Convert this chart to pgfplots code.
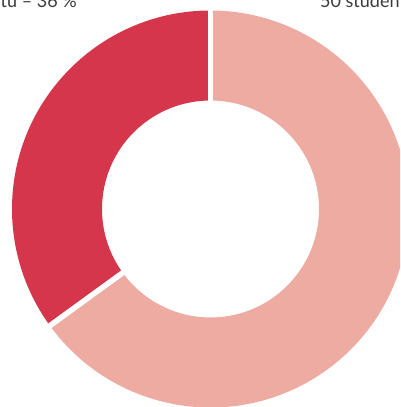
\documentclass[border=0pt]{standalone}
\usepackage{pgfplots}
\usepackage{pgfplotstable}
\pgfplotsset{compat=1.18}
\usepackage{fontspec}
\setmainfont{Lato}
\definecolor{darkc}{HTML}{D6364B}
\definecolor{lightc}{HTML}{EDABA2}
\definecolor{txt}{HTML}{3A3A3A}

\pgfplotstableread{
share
35
65
}\slices

\begin{document}
\begin{tikzpicture}
\pgfplotstablegetelem{0}{share}\of\slices
\pgfmathsetmacro{\va}{\pgfplotsretval}
\pgfplotstablegetelem{1}{share}\of\slices
\pgfmathsetmacro{\vb}{\pgfplotsretval}
\pgfmathsetmacro{\aA}{90}
\pgfmathsetmacro{\aB}{90+3.6*\va}
\pgfmathsetmacro{\aC}{\aB+3.6*\vb}
\def\R{198.5}
\def\r{108.5}
\begin{axis}[
  x=1pt, y=1pt,
  xmin=-210.5, xmax=189.5,
  ymin=-198, ymax=209,
  hide axis,
  scale only axis,
  clip=true,
]
% dark slice
\fill[darkc] (axis cs:{\R*cos(\aA)},{\R*sin(\aA)})
  arc[start angle=\aA, end angle=\aB, radius=\R pt]
  -- (axis cs:{\r*cos(\aB)},{\r*sin(\aB)})
  arc[start angle=\aB, end angle=\aA, radius=\r pt] -- cycle;
% light slice
\fill[lightc] (axis cs:{\R*cos(\aB)},{\R*sin(\aB)})
  arc[start angle=\aB, end angle=\aC, radius=\R pt]
  -- (axis cs:{\r*cos(\aC)},{\r*sin(\aC)})
  arc[start angle=\aC, end angle=\aB, radius=\r pt] -- cycle;
% separators
\draw[white, line width=5.5pt] (axis cs:{(\r-3)*cos(\aA)},{(\r-3)*sin(\aA)}) -- (axis cs:{(\R+3)*cos(\aA)},{(\R+3)*sin(\aA)});
\draw[white, line width=5.5pt] (axis cs:{(\r-3)*cos(\aB)},{(\r-3)*sin(\aB)}) -- (axis cs:{(\R+3)*cos(\aB)},{(\R+3)*sin(\aB)});
\end{axis}
\node[anchor=base east, text=txt, font=\fontsize{18pt}{20pt}\selectfont, inner sep=0pt]
  at ([xshift=77pt, yshift=-7.5pt]current axis.north west) {itu – 36 \%};
\node[anchor=base west, text=txt, font=\fontsize{18pt}{20pt}\selectfont, inner sep=0pt]
  at ([xshift=320pt, yshift=-7.5pt]current axis.north west) {50 studentů};
\pgfresetboundingbox
\useasboundingbox (current axis.south west) rectangle (current axis.north east);
\end{tikzpicture}
\end{document}
